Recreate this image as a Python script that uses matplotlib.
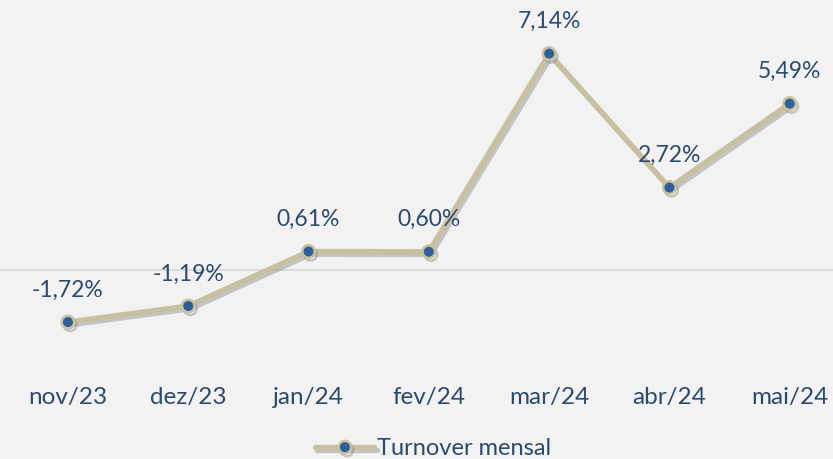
import matplotlib.pyplot as plt
import matplotlib.patheffects as pe

meses = ["nov/23", "dez/23", "jan/24", "fev/24", "mar/24", "abr/24", "mai/24"]
turnover = [-1.72, -1.19, 0.61, 0.60, 7.14, 2.72, 5.49]
rotulos = ["-1,72%", "-1,19%", "0,61%", "0,60%", "7,14%", "2,72%", "5,49%"]

cor_texto = "#2c4a6e"
cor_linha = "#c8c19f"
cor_ponto = "#2f5f97"
fundo = "#f2f2f2"

plt.rcParams["font.family"] = ["Lato", "DejaVu Sans"]

fig = plt.figure(figsize=(8.33, 4.59), dpi=100, facecolor=fundo)
ax = fig.add_axes([0, 0, 1, 1])
ax.set_facecolor(fundo)

x = list(range(len(meses)))
ax.axhline(0, color="#d6d6d6", lw=1.2, zorder=1)

sombra = [pe.SimpleLineShadow(offset=(1.5, -2), shadow_color="#8a8a8a", alpha=0.45), pe.Normal()]
ax.plot(x, turnover, color=cor_linha, lw=3.8, marker="o", markersize=9,
        markerfacecolor=cor_ponto, markeredgecolor=cor_linha, markeredgewidth=1.8,
        solid_capstyle="round", path_effects=sombra, zorder=3, label="Turnover mensal")

for xi, yi, rot in zip(x, turnover, rotulos):
    ax.annotate(rot, (xi, yi), xytext=(0, 23), textcoords="offset points",
                ha="center", va="center", fontsize=16.5, color=cor_texto)

for xi, m in zip(x, meses):
    ax.text(xi, -4.22, m, ha="center", va="center", fontsize=17.5, color=cor_texto)

ax.set_xlim(-0.565, 6.36)
ax.set_ylim(-6.24, 8.91)
ax.axis("off")

leg = ax.legend(loc="center", bbox_to_anchor=(0.52, 0.022), frameon=False,
                fontsize=17, handlelength=2.5, handletextpad=0.1)
for t in leg.get_texts():
    t.set_color(cor_texto)

fig.savefig("out.png", dpi=100, facecolor=fundo)
